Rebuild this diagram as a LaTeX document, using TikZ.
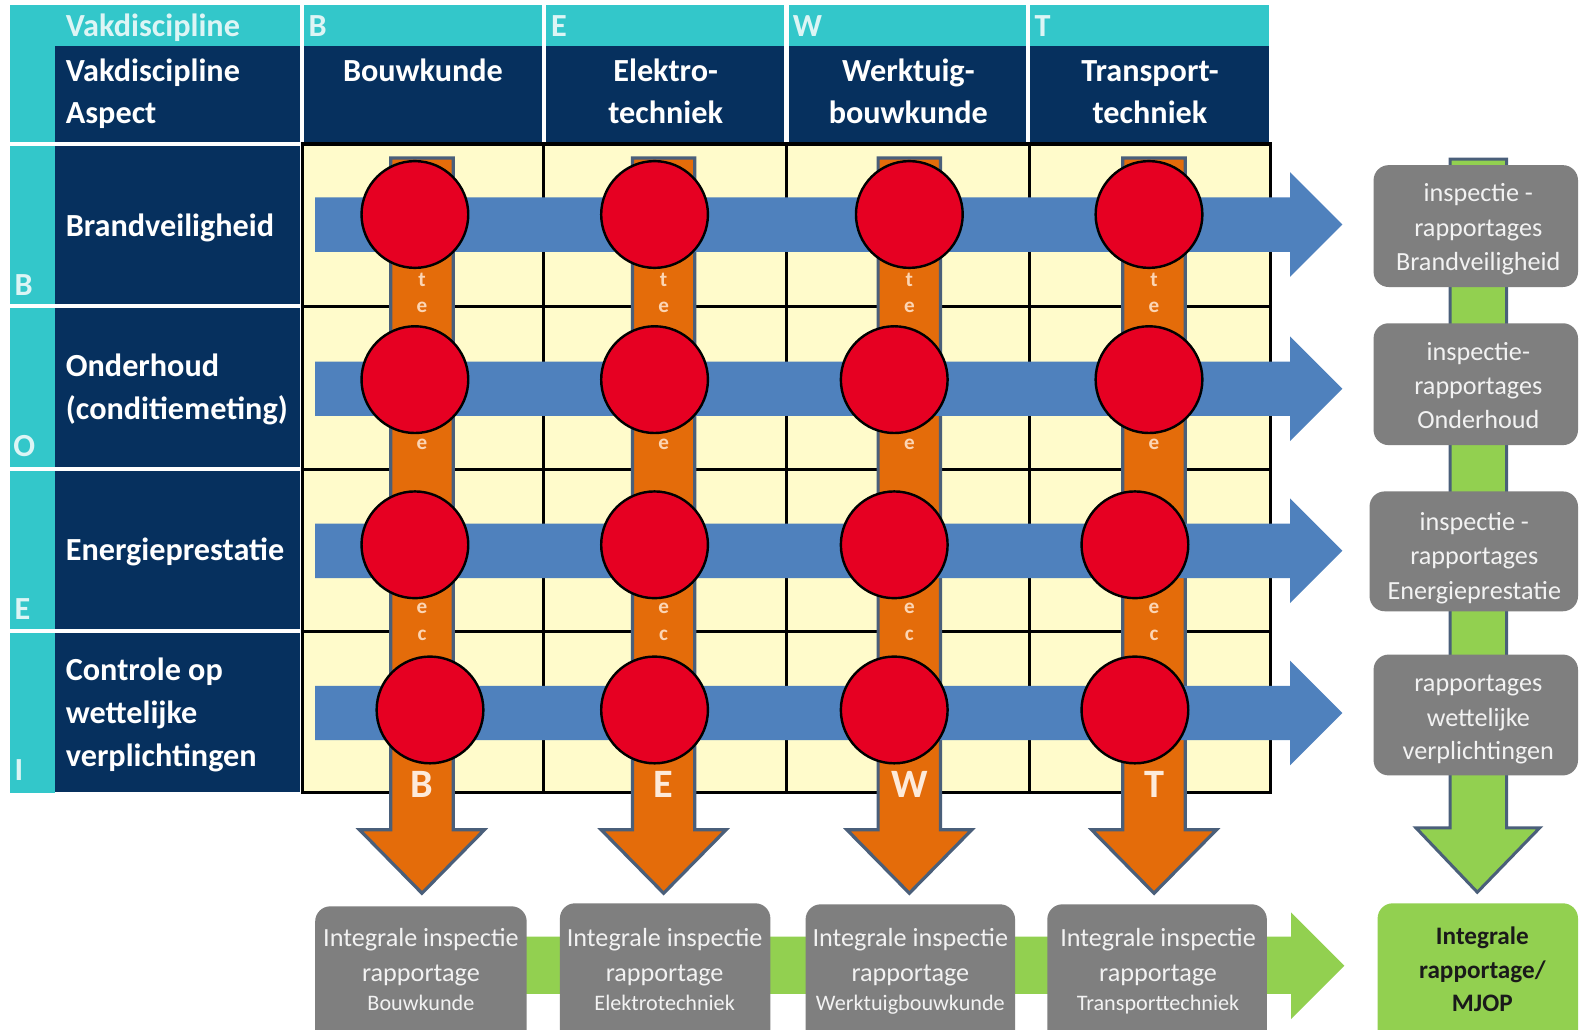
\documentclass[tikz,border=0pt]{standalone}
\usepackage{fontspec}
\setmainfont{Carlito}
\definecolor{cTeal}{HTML}{33C7CA}
\definecolor{cTealText}{HTML}{DDF5F5}
\definecolor{cNavy}{HTML}{06305E}
\definecolor{cCream}{HTML}{FFFBCB}
\definecolor{cBlue}{HTML}{4F81BD}
\definecolor{cOrange}{HTML}{E46C0A}
\definecolor{cSlate}{HTML}{4A5F7A}
\definecolor{cPeach}{HTML}{FCD5B4}
\definecolor{cLight}{HTML}{FDEADA}
\definecolor{cRed}{HTML}{E60022}
\definecolor{cGray}{HTML}{7F7F7F}
\definecolor{cGreen}{HTML}{92D050}
\definecolor{cDark}{HTML}{1A1A1A}
\begin{document}
\begin{tikzpicture}[x=0.5pt,y=-0.5pt,
  hb/.style={font=\fontsize{16}{21}\selectfont\bfseries,text=white,inner sep=0pt,anchor=base west},
  hc/.style={hb,anchor=base},
  tb/.style={hb,text=cTealText},
  gt/.style={font=\fontsize{13}{17}\selectfont,text=white!95!black,inner sep=0pt,anchor=base},
  gs/.style={gt,font=\fontsize{11}{14}\selectfont},
  gk/.style={font=\fontsize{12.5}{16}\selectfont\bfseries,text=cDark,inner sep=0pt,anchor=base},
  gbox/.style={fill=cGray,rounded corners=7.5pt},
  pk/.style={font=\fontsize{10.5}{11}\selectfont\bfseries,text=cPeach,inner sep=0pt},
  bigl/.style={font=\fontsize{20}{22}\selectfont\bfseries,text=cLight,inner sep=0pt,anchor=base},
  reddot/.style={circle,draw=black,line width=1.2pt,fill=cRed,minimum size=53pt,inner sep=0pt},
  oarrow/.style={draw=cSlate,line width=1.6pt,fill=cOrange,line join=miter},
  garrow/.style={draw=cSlate,line width=1.5pt,fill=cGreen,line join=miter},
  barrow/.style={fill=cBlue},
  wline/.style={draw=white,line width=2pt},
  gridline/.style={draw=black,line width=1.5pt}
]
\clip (0,0) rectangle (1568,1022);
\fill[white] (0,0) rectangle (1568,1022);
% teal frame
\fill[cTeal] (10,5) rectangle (1260,46);
\fill[cTeal] (10,5) rectangle (55,787);
% navy cells
\fill[cNavy] (55,46) rectangle (1260,141);
\fill[cNavy] (55,143) rectangle (298,786);
% white separators
\foreach \xx in {300,540,781,1021} \draw[wline] (\xx,5) -- (\xx,142);
\foreach \yy in {143,304,466,627} \draw[wline] (10,\yy) -- (298,\yy);
% grid
\fill[cCream] (300,143) rectangle (1262,787);
\foreach \xx in {540,781,1022} \draw[gridline] (\xx,143) -- (\xx,787);
\foreach \yy in {304,466,627} \draw[gridline] (300,\yy) -- (1262,\yy);
\draw[gridline] (300,143) rectangle (1262,787);

% header texts
\node[tb] (tVak) at (65,36) {Vakdiscipline};
\node[tb] (tB) at (306,36) {B};
\node[tb] (tE) at (547,36) {E};
\node[tb] (tW) at (787,36) {W};
\node[tb] (tT) at (1027,36) {T};
\node[hb] (hVak) at (65,81) {Vakdiscipline};
\node[hb] (hAsp) at (65,123) {Aspect};
\node[hc] (hBouw) at (420,81) {Bouwkunde};
\node[hc] (hEl1) at (661,81) {Elektro-};
\node[hc] (hEl2) at (661,123) {techniek};
\node[hc] (hWe1) at (902,81) {Werktuig-};
\node[hc] (hWe2) at (902,123) {bouwkunde};
\node[hc] (hTr1) at (1142,81) {Transport-};
\node[hc] (hTr2) at (1142,123) {techniek};
% row texts
\node[hb] (rBrand) at (65,235) {Brandveiligheid};
\node[hb] (rOnd1) at (65,374) {Onderhoud};
\node[hb] (rOnd2) at (65,417) {(conditiemeting)};
\node[hb] (rEn) at (65,557) {Energieprestatie};
\node[hb] (rCo1) at (65,676) {Controle op};
\node[hb] (rCo2) at (65,718) {wettelijke};
\node[hb] (rCo3) at (65,761) {verplichtingen};
\node[tb] (lB) at (14,293) {B};
\node[tb] (lO) at (13,453) {O};
\node[tb] (lE) at (14,615) {E};
\node[tb] (lI) at (14,775) {I};

% orange arrows
\foreach \cx/\nm in {419/B,659/E,903/W,1146/T}{
  \draw[oarrow] ({\cx-31},157) -- ({\cx+31},157) -- ({\cx+31},824) -- ({\cx+62},824)
     -- (\cx,887) -- ({\cx-62},824) -- ({\cx-31},824) -- cycle;
  \node[pk] (p1\nm) at (\cx,278) {t};
  \node[pk] (p2\nm) at (\cx,305) {e};
  \node[pk] (p3\nm) at (\cx,441) {e};
  \node[pk] (p4\nm) at (\cx,604) {e};
  \node[pk] (p5\nm) at (\cx,631) {c};
  \node[bigl] (L\nm) at (\cx,792) {\nm};
}
% blue arrows
\foreach \cy in {223,386,547,708}{
  \fill[barrow] (313,{\cy-27}) -- (1281,{\cy-27}) -- (1281,{\cy-52}) -- (1333,\cy)
     -- (1281,{\cy+52}) -- (1281,{\cy+27}) -- (313,{\cy+27}) -- cycle;
}
% red dots
\foreach \px/\py/\nm in {412/213/a1,650/213/a2,903/213/a3,1141/213/a4,
                         412/377/b1,650/377/b2,888/377/b3,1141/377/b4,
                         412/541/c1,650/541/c2,888/541/c3,1127/541/c4,
                         427/705/d1,650/705/d2,888/705/d3,1127/705/d4}{
  \node[reddot] (dot\nm) at (\px,\py) {};
}

% right green arrow and boxes
\draw[garrow] (1440,158) -- (1496,158) -- (1496,822) -- (1529,822) -- (1467,886)
   -- (1406,822) -- (1440,822) -- cycle;
\fill[gbox] (1364,164) rectangle (1567,285);
\fill[gbox] (1364,321) rectangle (1567,442);
\fill[gbox] (1360,488) rectangle (1567,607);
\fill[gbox] (1364,650) rectangle (1567,770);
\fill[cGreen,rounded corners=7.5pt] (1368,897) rectangle (1567,1040);
\node[gt] (r1a) at (1468,200) {inspectie -};
\node[gt] (r1b) at (1468,235) {rapportages};
\node[gt] (r1c) at (1468,269) {Brandveiligheid};
\node[gt] (r2a) at (1468,358) {inspectie-};
\node[gt] (r2b) at (1468,392) {rapportages};
\node[gt] (r2c) at (1468,426) {Onderhoud};
\node[gt] (r3a) at (1464,527) {inspectie -};
\node[gt] (r3b) at (1464,561) {rapportages};
\node[gt] (r3c) at (1464,595) {Energieprestatie};
\node[gt] (r4a) at (1468,687) {rapportages};
\node[gt] (r4b) at (1468,721) {wettelijke};
\node[gt] (r4c) at (1468,754) {verplichtingen};
\node[gk] (m1) at (1472,938) {Integrale};
\node[gk] (m2) at (1472,972) {rapportage/};
\node[gk] (m3) at (1472,1004) {MJOP};

% bottom green arrow and boxes
\fill[cGreen] (480,930) -- (1282,930) -- (1282,906) -- (1335,959) -- (1282,1012)
   -- (1282,987) -- (480,987) -- cycle;
\foreach \xa/\xb/\yt/\cx/\nm/\sub in {313/523/900/418/1/Bouwkunde,556/765/897/660/2/Elektrotechniek,
     800/1008/898/904/3/Werktuigbouwkunde,1040/1258/898/1150/4/Transporttechniek}{
  \fill[gbox] (\xa,\yt) rectangle (\xb,1045);
  \node[gt] (b\nm a) at (\cx,940) {Integrale inspectie};
  \node[gt] (b\nm b) at (\cx,975) {rapportage};
  \node[gs] (b\nm c) at (\cx,1003) {\sub};
}
\end{tikzpicture}
\end{document}
